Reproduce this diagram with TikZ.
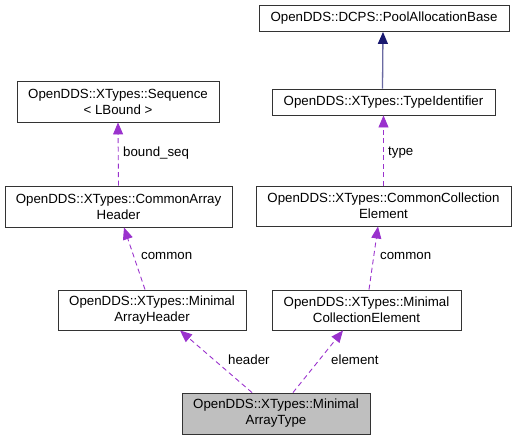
\documentclass[tikz,border=0pt]{standalone}
\usepackage{fontspec}
\setmainfont{Liberation Sans}
\usetikzlibrary{arrows.meta}
\definecolor{edgepurple}{HTML}{9A32CD}
\definecolor{edgenavy}{HTML}{191970}
\definecolor{boxgray}{HTML}{BFBFBF}
\tikzset{
  cls/.style={draw=black!80, line width=0.9pt, fill=white, align=center, inner sep=0pt,
    font=\fontsize{13.3}{16}\selectfont},
  dep/.style={draw=edgepurple, line width=0.9pt, dash pattern=on 5pt off 3.5pt,
    -{Triangle[length=12pt,width=10pt,fill=edgepurple]}},
  inh/.style={draw=edgenavy!65!white, line width=1.3pt,
    -{Triangle[length=12pt,width=10pt,color=edgenavy,fill=edgenavy]}},
  lbl/.style={anchor=west, inner sep=0pt, font=\fontsize{13.3}{16}\selectfont}
}
\begin{document}
\begin{tikzpicture}[x=1pt,y=-1pt]
\useasboundingbox (0,0) rectangle (517,440);
\node[cls, minimum width=250pt, minimum height=26pt] (pool) at (384,18.5) {OpenDDS::DCPS::PoolAllocationBase};
\node[cls, minimum width=223pt, minimum height=26pt] (tid) at (383.5,102) {OpenDDS::XTypes::TypeIdentifier};
\node[cls, minimum width=202pt, minimum height=41pt] (seq) at (118,101.5) {OpenDDS::XTypes::Sequence\\ {<} LBound {>}};
\node[cls, minimum width=227pt, minimum height=41pt] (cah) at (118.5,206.5) {OpenDDS::XTypes::CommonArray\\Header};
\node[cls, minimum width=255pt, minimum height=40pt] (cce) at (383.5,206) {OpenDDS::XTypes::CommonCollection\\Element};
\node[cls, minimum width=188pt, minimum height=40pt] (mah) at (152,310) {OpenDDS::XTypes::Minimal\\ArrayHeader};
\node[cls, minimum width=189pt, minimum height=40pt] (mce) at (366.5,310) {OpenDDS::XTypes::Minimal\\CollectionElement};
\node[cls, fill=boxgray, minimum width=188pt, minimum height=41pt] (mat) at (276,413.5) {OpenDDS::XTypes::Minimal\\ArrayType};

\draw[inh] ([xshift=-1pt]tid.north) -- ([xshift=-1pt]pool.south);
\draw[dep] (cce.north) -- (tid.south);
\draw[dep] (cah.north) -- (seq.south);
\draw[dep] ([xshift=-7pt]mah.north) -- ([xshift=5.5pt]cah.south);
\draw[dep] ([xshift=2.5pt]mce.north) -- ([xshift=-5.5pt]cce.south);
\draw[dep] ([xshift=-24pt]mat.north) -- ([xshift=28pt]mah.south);
\draw[dep] ([xshift=17pt]mat.north) -- ([xshift=-23.5pt]mce.south);

\node[lbl] (l1) at (123,153) {bound\_seq};
\node[lbl] (l2) at (388,153) {type};
\node[lbl] (l3) at (141,256) {common};
\node[lbl] (l4) at (380,256) {common};
\node[lbl] (l5) at (228,360) {header};
\node[lbl] (l6) at (331,360) {element};
\end{tikzpicture}
\end{document}
